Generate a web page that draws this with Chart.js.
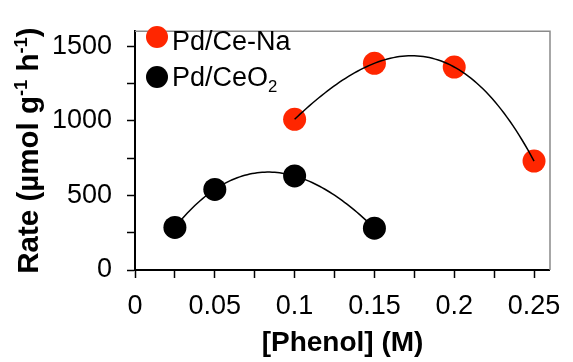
<!DOCTYPE html>
<html>
<head>
<meta charset="utf-8">
<script src="https://cdn.jsdelivr.net/npm/chart.js@4/dist/chart.umd.min.js"></script>
<style>
  html, body { margin: 0; padding: 0; background: #fff; }
  #wrap { width: 573px; height: 362px; }
</style>
</head>
<body>
<div id="wrap"><canvas id="rateChart" width="573" height="362"></canvas></div>
<script>
// rate vs phenol concentration, two catalysts
const phenolNa = [0.1, 0.15, 0.2, 0.25];
const rateNa = [1010, 1385, 1360, 730];
const phenolCeO2 = [0.025, 0.05, 0.1, 0.15];
const rateCeO2 = [285, 540, 630, 280];

const xTicks = [0, 0.025, 0.05, 0.075, 0.1, 0.125, 0.15, 0.175, 0.2, 0.225, 0.25];
const xTickLabels = ["0", "", "0.05", "", "0.1", "", "0.15", "", "0.2", "", "0.25"];
const yTicks = [0, 250, 500, 750, 1000, 1250, 1500];
const yTickLabels = ["0", "", "500", "", "1000", "", "1500"];

// label pieces: [text, "sup" | "sub" | undefined]
const labelNa = [["Pd/Ce-Na"]];
const labelCeO2 = [["Pd/CeO"], ["2", "sub"]];
const yTitle = [["Rate (µmol g"], ["-1", "sup"], [" h"], ["-1", "sup"], [")"]];
const xTitle = "[Phenol] (M)";

const redDot = "#ff2600";
const fontFamily = "'Liberation Sans', Arial, Helvetica, sans-serif";

const plainText = parts => parts.map(p => p[0]).join("");

// polynomial through the measured points (order = n - 1), sampled for the trend line
function trendLine(xs, ys, steps) {
  const evalAt = x => xs.reduce((sum, xi, i) => {
    let term = ys[i];
    xs.forEach((xj, j) => { if (j !== i) term *= (x - xj) / (xi - xj); });
    return sum + term;
  }, 0);
  const first = xs[0];
  const last = xs[xs.length - 1];
  const points = [];
  for (let i = 0; i <= steps; i++) {
    const x = first + (last - first) * i / steps;
    points.push({ x, y: evalAt(x) });
  }
  return points;
}

function toPoints(xs, ys) {
  return xs.map((x, i) => ({ x, y: ys[i] }));
}

function drawRich(ctx, parts, x, y, size, weight, align) {
  const pieceFont = part => {
    const s = part[1] ? size * 0.62 : size;
    return `${weight} ${s}px ${fontFamily}`;
  };
  let total = 0;
  parts.forEach(part => {
    ctx.font = pieceFont(part);
    total += ctx.measureText(part[0]).width;
  });
  let cx = align === "center" ? x - total / 2 : x;
  ctx.textAlign = "left";
  ctx.textBaseline = "alphabetic";
  parts.forEach(part => {
    ctx.font = pieceFont(part);
    let dy = 0;
    if (part[1] === "sup") dy = -size * 0.36;
    if (part[1] === "sub") dy = size * 0.24;
    ctx.fillText(part[0], cx, y + dy);
    cx += ctx.measureText(part[0]).width;
  });
}

const frameAndLabels = {
  id: "frameAndLabels",
  afterDraw(chart) {
    const { ctx, chartArea } = chart;
    ctx.save();

    // grey top and right frame
    ctx.strokeStyle = "#8a8a8a";
    ctx.lineWidth = 1.5;
    ctx.beginPath();
    ctx.moveTo(chartArea.left, chartArea.top);
    ctx.lineTo(chartArea.right, chartArea.top);
    ctx.lineTo(chartArea.right, chartArea.bottom);
    ctx.stroke();

    // legend inside the plot
    ctx.fillStyle = redDot;
    ctx.beginPath();
    ctx.arc(157, 37, 11, 0, Math.PI * 2);
    ctx.fill();
    ctx.fillStyle = "#000";
    ctx.beginPath();
    ctx.arc(157, 77, 11, 0, Math.PI * 2);
    ctx.fill();
    drawRich(ctx, labelNa, 172, 50, 27, "normal", "left");
    drawRich(ctx, labelCeO2, 172, 86, 27, "normal", "left");

    // rotated y title
    ctx.translate(38, (chartArea.top + chartArea.bottom) / 2);
    ctx.rotate(-Math.PI / 2);
    drawRich(ctx, yTitle, 0, 0, 29.5, "bold", "center");
    ctx.restore();
  }
};

const tickFont = { family: fontFamily, size: 27 };
const gridStyle = {
  drawOnChartArea: false,
  drawTicks: true,
  tickLength: 8,
  tickWidth: 1.5,
  tickColor: "#000"
};

new Chart(document.getElementById("rateChart"), {
  type: "scatter",
  data: {
    datasets: [
      {
        label: plainText(labelNa) + " fit",
        data: trendLine(phenolNa, rateNa, 80),
        showLine: true,
        borderColor: "#000",
        borderWidth: 1.5,
        pointRadius: 0,
        order: 0
      },
      {
        label: plainText(labelCeO2) + " fit",
        data: trendLine(phenolCeO2, rateCeO2, 80),
        showLine: true,
        borderColor: "#000",
        borderWidth: 1.5,
        pointRadius: 0,
        order: 0
      },
      {
        label: plainText(labelNa),
        data: toPoints(phenolNa, rateNa),
        backgroundColor: redDot,
        borderWidth: 0,
        pointRadius: 11.5,
        order: 1
      },
      {
        label: plainText(labelCeO2),
        data: toPoints(phenolCeO2, rateCeO2),
        backgroundColor: "#000",
        borderWidth: 0,
        pointRadius: 11.5,
        order: 1
      }
    ]
  },
  options: {
    responsive: false,
    animation: false,
    layout: { padding: { left: 0, top: 12, right: 18, bottom: 0 } },
    plugins: {
      legend: { display: false }
    },
    scales: {
      x: {
        type: "linear",
        position: "bottom",
        min: 0,
        max: 0.26,
        afterFit: scale => { scale.height = 92; },
        afterBuildTicks: scale => { scale.ticks = xTicks.map(value => ({ value })); },
        ticks: {
          autoSkip: false,
          maxRotation: 0,
          padding: 12,
          color: "#000",
          font: tickFont,
          callback: (value, index) => xTickLabels[index]
        },
        grid: gridStyle,
        border: { color: "#000", width: 2 },
        title: {
          display: true,
          text: xTitle,
          color: "#000",
          font: { family: fontFamily, size: 28, weight: "bold" },
          padding: { top: 0, bottom: 2 }
        }
      },
      y: {
        type: "linear",
        min: 0,
        max: 1600,
        afterFit: scale => { scale.width = 135; },
        afterBuildTicks: scale => { scale.ticks = yTicks.map(value => ({ value })); },
        ticks: {
          autoSkip: false,
          padding: 15,
          color: "#000",
          font: tickFont,
          callback: (value, index) => yTickLabels[index]
        },
        grid: gridStyle,
        border: { color: "#000", width: 2 }
      }
    }
  },
  plugins: [frameAndLabels]
});
</script>
</body>
</html>
